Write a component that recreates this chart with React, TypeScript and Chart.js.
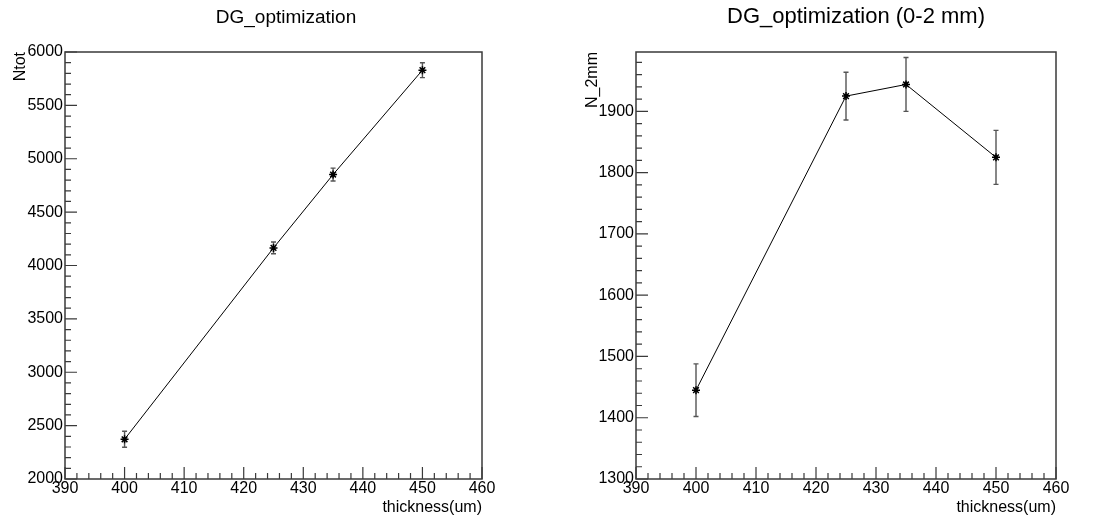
import React, { useEffect, useRef } from "react";
import { Chart, registerables } from "chart.js";

Chart.register(...registerables);

const FONT = "'Liberation Sans', Arial, Helvetica, sans-serif";

// ---- data ----
const thickness = [400, 425, 435, 450];
const nTot = [2372, 4165, 4852, 5830];
const nTotErr = [75, 55, 60, 70];
const n2mm = [1445, 1925, 1944, 1825];
const n2mmErr = [43, 39, 44, 44];

// ---- tick labels ----
const xTickLabels = [390, 400, 410, 420, 430, 440, 450, 460];
const xMinorStep = 2;
const leftYTickLabels = [2000, 2500, 3000, 3500, 4000, 4500, 5000, 5500, 6000];
const leftYMax = 6000;
const leftYMinorStep = 100;
const rightYTickLabels = [1300, 1400, 1500, 1600, 1700, 1800, 1900];
const rightYMax = 1997;
const rightYMinorStep = 20;

const leftTitle = "DG_optimization";
const rightTitle = "DG_optimization (0-2 mm)";
const leftYTitle = "Ntot";
const rightYTitle = "N_2mm";
const xTitle = "thickness(um)";

type Spec = {
  title: string;
  titleSize: number;
  titleX: number;
  yTitle: string;
  yTitleX: number;
  values: number[];
  errors: number[];
  yTicks: number[];
  yMax: number;
  yMinor: number;
  areaLeft: number;
  padRight: number;
  width: number;
};

const FRAME = "#3a3a3a";

function makePlugin(spec: Spec) {
  return {
    id: "rootStyle",
    beforeDatasetsDraw(chart: any) {
      const { ctx, chartArea: a, scales } = chart;
      const x = scales.x;
      const y = scales.y;
      ctx.save();
      // frame
      ctx.strokeStyle = FRAME;
      ctx.lineWidth = 1.5;
      ctx.strokeRect(a.left, a.top, a.right - a.left, a.bottom - a.top);
      // x ticks
      ctx.lineWidth = 1.2;
      const x0 = xTickLabels[0];
      const x1 = xTickLabels[xTickLabels.length - 1];
      ctx.beginPath();
      for (let v = x0; v <= x1 + 1e-9; v += xMinorStep) {
        const px = x.getPixelForValue(v);
        ctx.moveTo(px, a.bottom);
        ctx.lineTo(px, a.bottom - 6);
      }
      xTickLabels.forEach((v) => {
        const px = x.getPixelForValue(v);
        ctx.moveTo(px, a.bottom);
        ctx.lineTo(px, a.bottom - 12);
      });
      // y ticks
      const y0 = spec.yTicks[0];
      for (let v = y0; v <= spec.yMax + 1e-9; v += spec.yMinor) {
        const py = y.getPixelForValue(v);
        ctx.moveTo(a.left, py);
        ctx.lineTo(a.left + 6, py);
      }
      spec.yTicks.forEach((v) => {
        const py = y.getPixelForValue(v);
        ctx.moveTo(a.left, py);
        ctx.lineTo(a.left + 12, py);
      });
      ctx.stroke();

      // error bars
      ctx.strokeStyle = "#555";
      ctx.lineWidth = 1.4;
      ctx.beginPath();
      spec.values.forEach((v, i) => {
        const px = x.getPixelForValue(thickness[i]);
        const top = y.getPixelForValue(v + spec.errors[i]);
        const bot = y.getPixelForValue(v - spec.errors[i]);
        ctx.moveTo(px, top);
        ctx.lineTo(px, bot);
        ctx.moveTo(px - 2.5, top);
        ctx.lineTo(px + 2.5, top);
        ctx.moveTo(px - 2.5, bot);
        ctx.lineTo(px + 2.5, bot);
      });
      ctx.stroke();
      ctx.restore();
    },
    afterDraw(chart: any) {
      const { ctx, chartArea: a } = chart;
      ctx.save();
      ctx.fillStyle = "#000";
      // title
      ctx.font = `${spec.titleSize}px ${FONT}`;
      ctx.textAlign = "center";
      ctx.textBaseline = "alphabetic";
      ctx.fillText(spec.title, spec.titleX, 23);
      // x title
      ctx.font = `16px ${FONT}`;
      ctx.textAlign = "right";
      ctx.fillText(xTitle, a.right, 512);
      // y title
      ctx.translate(spec.yTitleX, a.top);
      ctx.rotate(-Math.PI / 2);
      ctx.textAlign = "right";
      ctx.fillText(spec.yTitle, 0, 0);
      ctx.restore();
    },
  };
}

function Panel({ spec, left }: { spec: Spec; left: number }) {
  const ref = useRef<HTMLCanvasElement>(null);
  useEffect(() => {
    const chart = new Chart(ref.current as HTMLCanvasElement, {
      type: "line",
      data: {
        datasets: [
          {
            data: thickness.map((t, i) => ({ x: t, y: spec.values[i] })),
            borderColor: "#000",
            borderWidth: 1,
            pointStyle: "star",
            pointRadius: 4,
            pointBorderColor: "#000",
            pointBackgroundColor: "#000",
            pointBorderWidth: 1.5,
            fill: false,
            tension: 0,
          },
        ],
      },
      options: {
        responsive: false,
        animation: false,
        layout: { padding: { left: 0, right: spec.padRight, top: 52, bottom: 0 } },
        plugins: {
          legend: { display: false },
          tooltip: { enabled: false },
          title: { display: false },
        },
        scales: {
          x: {
            type: "linear",
            min: xTickLabels[0],
            max: xTickLabels[xTickLabels.length - 1],
            grid: { display: false, drawTicks: false },
            border: { display: false },
            afterBuildTicks: (s: any) => {
              s.ticks = xTickLabels.map((v) => ({ value: v }));
            },
            afterFit: (s: any) => {
              s.height = 44;
            },
            ticks: {
              padding: 0,
              autoSkip: false,
              maxRotation: 0,
              color: "#000",
              font: { family: FONT, size: 16 },
              callback: (v: any) => String(v),
            },
          },
          y: {
            type: "linear",
            min: spec.yTicks[0],
            max: spec.yMax,
            grid: { display: false, drawTicks: false },
            border: { display: false },
            afterBuildTicks: (s: any) => {
              s.ticks = spec.yTicks.map((v) => ({ value: v }));
            },
            afterFit: (s: any) => {
              s.width = spec.areaLeft;
            },
            ticks: {
              padding: 2,
              autoSkip: false,
              color: "#000",
              font: { family: FONT, size: 16 },
              callback: (v: any) => String(v),
            },
          },
        },
      },
      plugins: [makePlugin(spec)],
    } as any);
    return () => chart.destroy();
  }, []);
  return (
    <canvas
      ref={ref}
      width={spec.width}
      height={523}
      style={{ position: "absolute", left, top: 0, width: spec.width, height: 523 }}
    />
  );
}

const leftSpec: Spec = {
  title: leftTitle,
  titleSize: 19,
  titleX: 286,
  yTitle: leftYTitle,
  yTitleX: 25,
  values: nTot,
  errors: nTotErr,
  yTicks: leftYTickLabels,
  yMax: leftYMax,
  yMinor: leftYMinorStep,
  areaLeft: 65,
  padRight: 66,
  width: 548,
};

const rightSpec: Spec = {
  title: rightTitle,
  titleSize: 22,
  titleX: 308,
  yTitle: rightYTitle,
  yTitleX: 49,
  values: n2mm,
  errors: n2mmErr,
  yTicks: rightYTickLabels,
  yMax: rightYMax,
  yMinor: rightYMinorStep,
  areaLeft: 88,
  padRight: 41,
  width: 549,
};

export default function App() {
  return (
    <div style={{ position: "absolute", left: 0, top: 0, width: 1097, height: 523, background: "#fff" }}>
      <Panel spec={leftSpec} left={0} />
      <Panel spec={rightSpec} left={548} />
    </div>
  );
}
